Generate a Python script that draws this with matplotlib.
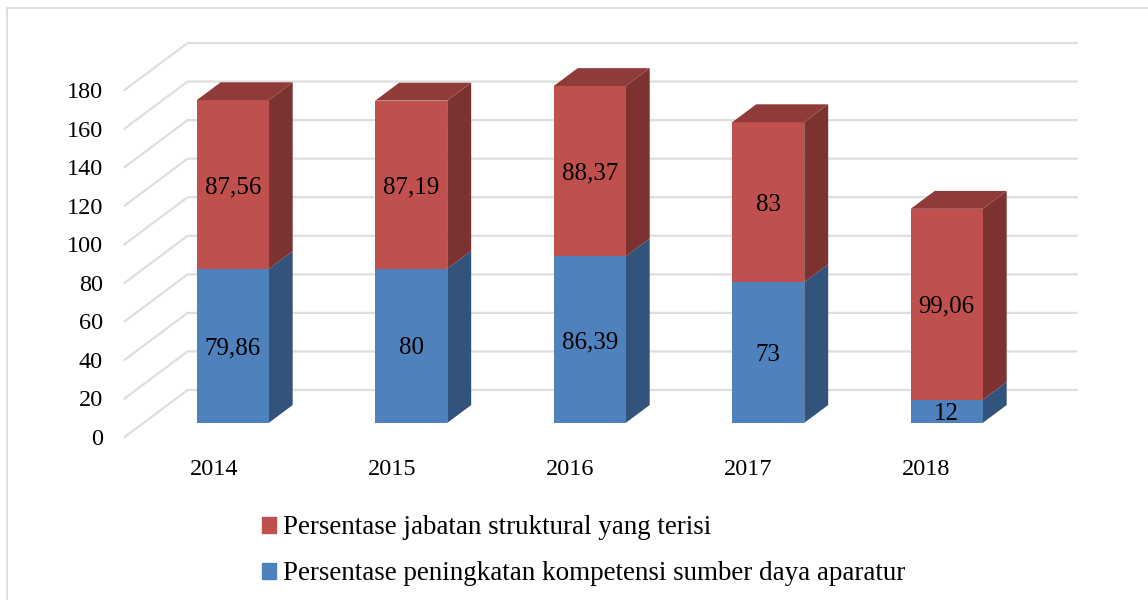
import matplotlib

matplotlib.use("Agg")

import matplotlib.pyplot as plt
from matplotlib.patches import Patch, Rectangle

years = ["2014", "2015", "2016", "2017", "2018"]
kompetensi = [79.86, 80, 86.39, 73, 12]
jabatan = [87.56, 87.19, 88.37, 83, 99.06]
kompetensi_labels = ["79,86", "80", "86,39", "73", "12"]
jabatan_labels = ["87,56", "87,19", "88,37", "83", "99,06"]
y_ticks = list(range(0, 200, 20))

RED = ("#C0504D", "#8F3B39", "#7C3230")
BLUE = ("#4F81BD", "#3B618E", "#32537C")
GRID = "#DEDEDE"
FONT = "Liberation Serif"

W, H = 1148, 600
STEP = 178.5
# depth of the floor, in data units (x in categories, y in chart units)
DEPTH_X = 63 / STEP
DEPTH_Y = 47 / (347 / 180)
BAR_W = 72 / STEP
BAR_FRONT = 0.30
BAR_BACK = 0.68
GRID_END = 4.48
LABEL_DROP = 1.3
TICK_STEP = 178 / STEP


def project(x, y, depth):
    return x + depth * DEPTH_X, y + depth * DEPTH_Y


def draw_segment(ax, x, bottom, top, colors, with_top):
    left, right = x - BAR_W / 2, x + BAR_W / 2
    corners_front = [project(left, bottom, BAR_FRONT), project(right, bottom, BAR_FRONT),
                     project(right, top, BAR_FRONT), project(left, top, BAR_FRONT)]
    side = [project(right, bottom, BAR_FRONT), project(right, bottom, BAR_BACK),
            project(right, top, BAR_BACK), project(right, top, BAR_FRONT)]
    for poly, color in ((side, colors[2]), (corners_front, colors[0])):
        ax.fill(*zip(*poly), color=color, lw=0, clip_on=False, zorder=3)
    if with_top:
        lid = [project(left, top, BAR_FRONT), project(right, top, BAR_FRONT),
               project(right, top, BAR_BACK), project(left, top, BAR_BACK)]
        ax.fill(*zip(*lid), color=colors[1], lw=0, clip_on=False, zorder=3)


fig = plt.figure(figsize=(W / 100, H / 100), dpi=100)
fig.add_artist(Rectangle((7 / W, -0.02), (W + 20) / W, 1.02 - 8 / H, transform=fig.transFigure,
                         fill=False, edgecolor="#D9D9D9", linewidth=1.2))

ax = fig.add_axes([124.6 / W, 1 - 437 / H, 5 * STEP / W, 347 / H])
ax.set_xlim(-0.5, 4.5)
ax.set_ylim(0, 180)
ax.patch.set_alpha(0)
for spine in ax.spines.values():
    spine.set_visible(False)

for value in y_ticks:
    back_left = project(-0.5, value, 1)
    back_right = project(GRID_END, value, 1)
    front_left = project(-0.5, value, 0)
    ax.plot([front_left[0], back_left[0], back_right[0]], [front_left[1], back_left[1], back_right[1]],
            color=GRID, lw=1.6, clip_on=False, zorder=1, solid_joinstyle="miter")

for i, year in enumerate(years):
    low, high = kompetensi[i], kompetensi[i] + jabatan[i]
    draw_segment(ax, i, 0, low, BLUE, False)
    draw_segment(ax, i, low, high, RED, True)
    x_text, y_text = project(i, low / 2 - LABEL_DROP, BAR_FRONT)
    ax.text(x_text, y_text, kompetensi_labels[i], ha="center", va="center",
            fontsize=18, family=FONT, color="black", zorder=4)
    x_text, y_text = project(i, low + jabatan[i] / 2 - LABEL_DROP, BAR_FRONT)
    ax.text(x_text, y_text, jabatan_labels[i], ha="center", va="center",
            fontsize=18, family=FONT, color="black", zorder=4)

ax.set_xticks([i * TICK_STEP for i in range(len(years))], years, family=FONT, fontsize=17.5)
ax.set_yticks(y_ticks, [str(v) for v in y_ticks], family=FONT, fontsize=17.5)
ax.tick_params(axis="x", length=0, pad=16)
ax.tick_params(axis="y", length=0, pad=15.5)

handles = [Patch(color=RED[0]), Patch(color=BLUE[0])]
labels = ["Persentase jabatan struktural yang terisi",
          "Persentase peningkatan kompetensi sumber daya aparatur"]
fig.legend(handles, labels, loc="lower left", bbox_to_anchor=(262 / W, 1 - 586.5 / H),
           frameon=False, prop={"family": FONT, "size": 19.45},
           handlelength=0.52, handleheight=0.52, handletextpad=0.26,
           labelspacing=0.78, borderpad=0, borderaxespad=0)

fig.savefig("out.png", dpi=100)
plt.close(fig)
